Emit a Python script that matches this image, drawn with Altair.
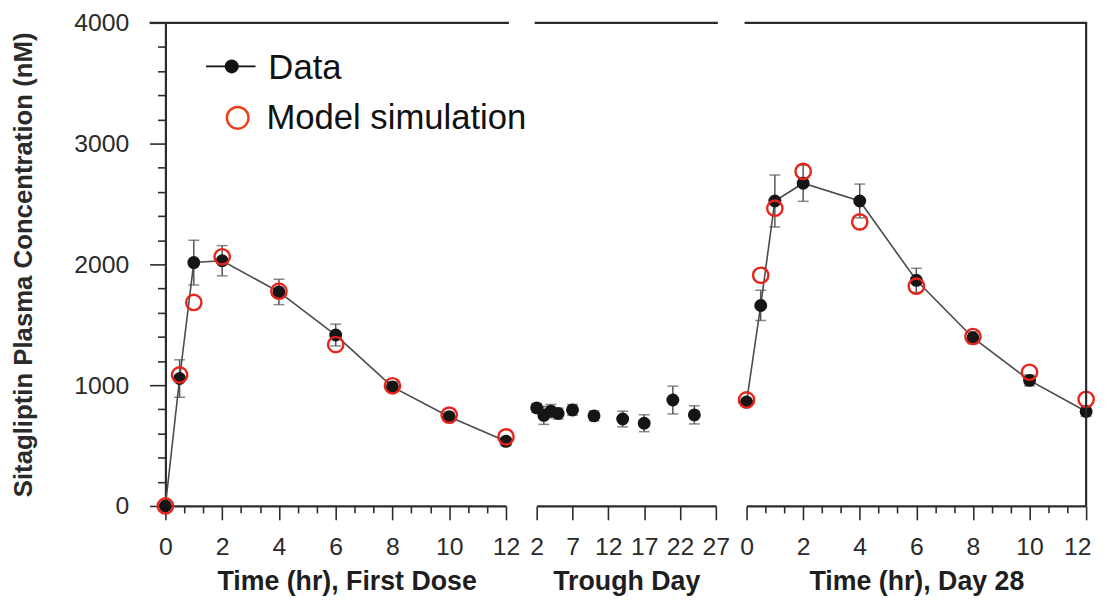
import altair as alt
import pandas as pd

# ---------------- data ----------------
hours = [0, 0.5, 1, 2, 4, 6, 8, 10, 12]

first_data = [0, 1055, 2015, 2030, 1772, 1415, 986, 738, 535]
first_err = [0, 155, 185, 125, 105, 90, 40, 38, 35]
first_model = [0, 1085, 1685, 2063, 1778, 1336, 995, 752, 572]

trough_day = [2, 3, 4, 5, 7, 10, 14, 17, 21, 24]
trough_data = [812, 750, 785, 765, 795, 746, 720, 685, 877, 754]
trough_err = [35, 75, 55, 45, 45, 40, 65, 70, 115, 75]

day28_data = [860, 1660, 2525, 2672, 2525, 1868, 1393, 1040, 782]
day28_err = [30, 125, 215, 150, 140, 100, 50, 45, 40]
day28_model = [878, 1910, 2465, 2770, 2352, 1820, 1403, 1107, 883]

y_tick_values = list(range(0, 4001, 200))
hr_major_ticks = [0, 2, 4, 6, 8, 10, 12]
hr_minor_ticks = [0.6667, 1.3333, 2.6667, 3.3333, 4.6667, 5.3333, 6.6667,
                  7.3333, 8.6667, 9.3333, 10.6667, 11.3333]
trough_tick_values = [2, 7, 12, 17, 22, 27]

# ---------------- style ----------------
FONT = "Liberation Sans"
AX = "#2b2b2b"
RED = "#e8231b"
DOT = "#151515"
LINE = "#4a4a4a"
ERR = "#555555"
H = 488
W1, W2, W3 = 344, 181, 343

y_scale = alt.Scale(domain=[0, 4000], nice=False, zero=True)


def frame(values_x, values_y, values_err, values_model=None):
    df = pd.DataFrame({"x": values_x, "y": values_y, "err": values_err})
    df["lo"] = df["y"] - df["err"]
    df["hi"] = df["y"] + df["err"]
    if values_model is not None:
        df["m"] = values_model
    return df


def major_axis(title, values, title_x=None, last_flush=False):
    kw = dict(
        title=title, orient="bottom",
        values=values, format="d",
        tickSize=14, tickColor=AX, tickWidth=1.6,
        domainColor=AX, domainWidth=2.2,
        labelFont=FONT, labelFontSize=25, labelColor="#2a2a2a", labelPadding=15,
        titleFont=FONT, titleFontSize=27, titleFontWeight="bold", titleColor="#1e1e1e",
        titlePadding=9, grid=False, labelFlush=False, labelOverlap=False,
    )
    if title_x is not None:
        kw["titleX"] = title_x
    if last_flush:
        kw["labelAlign"] = {"condition": {"test": "datum.value === 12", "value": "right"},
                            "value": "center"}
        kw["labelOffset"] = {"condition": {"test": "datum.value === 12", "value": 5},
                             "value": 0}
    return alt.Axis(**kw)


minor_axis = alt.Axis(
    title=None, orient="bottom", values=hr_minor_ticks, labels=False, domain=False,
    tickSize=7, tickColor=AX, tickWidth=1.6, grid=False,
)


def one_row():
    return alt.Chart(pd.DataFrame({"k": [0]}))


def panel(df, xdomain, axis, with_line, with_model, y_axis):
    base = alt.Chart(df)
    xs = alt.Scale(domain=xdomain, nice=False, zero=False)
    X = alt.X("x:Q", scale=xs, axis=axis)
    Y = alt.Y("y:Q", scale=y_scale, axis=y_axis)
    err_df = base.transform_filter("datum.err > 0")
    layers = [
        err_df.mark_rule(color=ERR, strokeWidth=1.5).encode(
            x=X, y=alt.Y("lo:Q", scale=y_scale, axis=y_axis), y2="hi:Q"),
        err_df.mark_tick(orient="horizontal", color=ERR, size=11, thickness=1.5).encode(
            x=X, y=alt.Y("lo:Q", scale=y_scale, axis=y_axis)),
        err_df.mark_tick(orient="horizontal", color=ERR, size=11, thickness=1.5).encode(
            x=X, y=alt.Y("hi:Q", scale=y_scale, axis=y_axis)),
    ]
    if with_line:
        layers.append(base.mark_line(color=LINE, strokeWidth=1.6).encode(x=X, y=Y))
    layers.append(base.mark_point(filled=True, size=170, color=DOT, opacity=1).encode(x=X, y=Y))
    if with_model:
        layers.append(base.mark_point(filled=False, size=240, stroke=RED, strokeWidth=2.4,
                                      opacity=1).encode(
            x=X, y=alt.Y("m:Q", scale=y_scale, axis=y_axis)))
    return layers, xs


def minor_layer(df, xs):
    return alt.Chart(df).mark_point(opacity=0).encode(
        x=alt.X("x:Q", scale=xs, axis=minor_axis))


# ---------------- panel 1 : first dose ----------------
df1 = frame(hours, first_data, first_err, first_model)
y_axis1 = alt.Axis(
    title="Sitagliptin Plasma Concentration (nM)",
    values=y_tick_values, format="d",
    labelExpr="datum.value % 1000 === 0 ? datum.label : ''",
    tickSize={"condition": {"test": "datum.value % 1000 === 0", "value": 16}, "value": 8},
    tickColor=AX, tickWidth=1.6, domainColor=AX, domainWidth=2.2,
    labelFont=FONT, labelFontSize=25, labelColor="#2a2a2a", labelPadding=21,
    titleFont=FONT, titleFontSize=26, titleFontWeight="bold", titleColor="#2a2a2a",
    titlePadding=38, grid=False, labelOverlap=False, labelFlush=False,
)
layers1, xs1 = panel(df1, [0, 12], major_axis("Time (hr), First Dose", hr_major_ticks, 183),
                     True, True, y_axis1)
layers1.append(one_row().mark_rule(color=AX, strokeWidth=2.2).encode(
    x=alt.value(-16), x2=alt.value(W1 + 3), y=alt.value(0)))
# legend
layers1.append(one_row().mark_rule(color="#111", strokeWidth=1.8).encode(
    x=alt.value(41), x2=alt.value(91), y=alt.value(44)))
layers1.append(one_row().mark_point(filled=True, size=200, color="#111", opacity=1).encode(
    x=alt.value(67), y=alt.value(44)))
layers1.append(one_row().mark_text(text="Data", font=FONT, fontSize=35, align="left",
                                   baseline="alphabetic", color="#111").encode(
    x=alt.value(104), y=alt.value(57)))
layers1.append(one_row().mark_point(filled=False, size=480, stroke="#f03c16", strokeWidth=2.4,
                                    opacity=1).encode(x=alt.value(73), y=alt.value(96)))
layers1.append(one_row().mark_text(text="Model simulation", font=FONT, fontSize=35,
                                   align="left", baseline="alphabetic", color="#111").encode(
    x=alt.value(102), y=alt.value(107)))
p1 = alt.layer(alt.layer(*layers1), minor_layer(df1, xs1)).resolve_axis(
    x="independent").properties(width=W1, height=H)

# ---------------- panel 2 : trough day ----------------
df2 = frame(trough_day, trough_data, trough_err)
layers2, xs2 = panel(df2, [2, 27], major_axis("Trough Day", trough_tick_values),
                     False, False, None)
layers2.append(one_row().mark_rule(color=AX, strokeWidth=2.2).encode(
    x=alt.value(-2), x2=alt.value(W2 + 2), y=alt.value(0)))
p2 = alt.layer(*layers2).properties(width=W2, height=H)

# ---------------- panel 3 : day 28 ----------------
df3 = frame(hours, day28_data, day28_err, day28_model)
layers3, xs3 = panel(df3, [0, 12],
                     major_axis("Time (hr), Day 28", hr_major_ticks, last_flush=True),
                     True, True, None)
layers3.append(one_row().mark_rule(color=AX, strokeWidth=2.2).encode(
    x=alt.value(-2), x2=alt.value(W3 + 1), y=alt.value(0)))
layers3.append(one_row().mark_rule(color=AX, strokeWidth=2.2).encode(
    x=alt.value(W3), y=alt.value(0), y2=alt.value(H)))
p3 = alt.layer(alt.layer(*layers3), minor_layer(df3, xs3)).resolve_axis(
    x="independent").properties(width=W3, height=H)

chart = alt.hconcat(p1, p2, p3, spacing=31, bounds="flush").properties(
    padding={"left": 2, "top": 0, "right": 0, "bottom": 0},
    background="white",
).configure(font=FONT).configure_view(stroke=None)

chart.save("out.html", embed_options={"renderer": "svg", "actions": False})
